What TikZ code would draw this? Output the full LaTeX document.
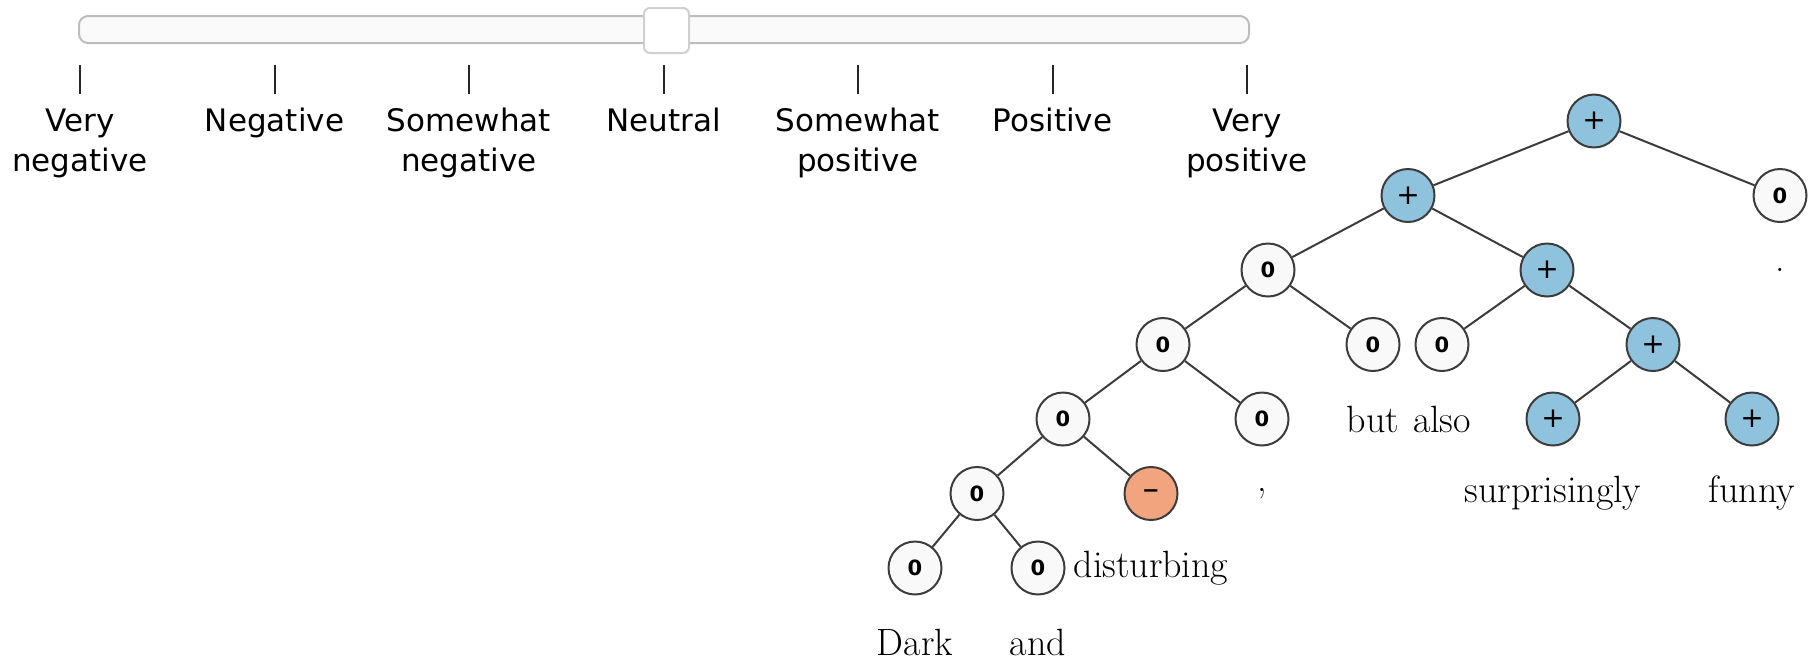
\documentclass[tikz,border=0pt]{standalone}
\usepackage{fontspec}
\usepackage{xcolor}
\usepackage{tikz}
\usetikzlibrary{positioning,shapes,calc}
\newfontfamily\labelfont{DejaVu Sans}
\newfontfamily\nodefont{DejaVu Sans}
\definecolor{posblue}{HTML}{8FC2DD}
\definecolor{negorange}{HTML}{F2A47E}
\definecolor{zerofill}{HTML}{F9F9F9}
\definecolor{edgegray}{HTML}{3C3C3C}
\definecolor{barline}{HTML}{BDBDBD}
\definecolor{knobline}{HTML}{D0D0D0}

\begin{document}
\begin{tikzpicture}[
  x=0.5pt, y=-0.5pt,
  tnode/.style={
    circle,
    draw=edgegray,
    line width=1pt,
    minimum size=26.5pt,
    inner sep=0pt,
    font=\nodefont\bfseries\fontsize{10.5}{12}\selectfont
  },
  zeronode/.style={tnode, fill=zerofill},
  posnode/.style={tnode, fill=posblue, font=\nodefont\fontsize{14}{14}\selectfont},
  negnode/.style={tnode, fill=negorange},
  word/.style={inner sep=0pt, font=\fontsize{19}{22}\selectfont},
  scalelabel/.style={inner sep=0pt, anchor=north, align=center, font=\labelfont\fontsize{15.5}{20}\selectfont},
  treeedge/.style={draw=edgegray, line width=1pt},
  tickline/.style={draw=black!85, line width=1pt}
]
\useasboundingbox (0,0) rectangle (1816,660);

% Slider bar and knob
\draw[barline, fill=white!98!black, line width=1pt, rounded corners=4.5pt] (79,16) rectangle (1249,43);
\draw[knobline, fill=white, line width=1pt, rounded corners=3pt] (644,8) rectangle (689,53);

% Ticks
\draw[tickline] (80,65) -- (80,94);
\draw[tickline] (274.5,65) -- (274.5,94);
\draw[tickline] (469,65) -- (469,94);
\draw[tickline] (663.5,65) -- (663.5,94);
\draw[tickline] (858,65) -- (858,94);
\draw[tickline] (1052.5,65) -- (1052.5,94);
\draw[tickline] (1247,65) -- (1247,94);

% Scale labels
\node[scalelabel] (lVN) at (80,108) {Very\\negative};
\node[scalelabel] (lN) at (274.5,108) {Negative};
\node[scalelabel] (lSN) at (469,108) {Somewhat\\negative};
\node[scalelabel] (lZ) at (663.5,108) {Neutral};
\node[scalelabel] (lSP) at (858,108) {Somewhat\\positive};
\node[scalelabel] (lP) at (1052.5,108) {Positive};
\node[scalelabel] (lVP) at (1247,108) {Very\\positive};

% Tree, layer 0 and 1
\node[posnode] (N01) at (1594,121) {+};
\node[posnode] (N11) at (1408,195.5) {+};
\node[zeronode] (N12) at (1780,195.5) {0};

% Layer 2
\node[zeronode] (N21) at (1268,270) {0};
\node[posnode] (N22) at (1547,270) {+};

% Layer 3
\node[zeronode] (N31) at (1163,344.5) {0};
\node[zeronode] (N32) at (1373,344.5) {0};
\node[zeronode] (N33) at (1442,344.5) {0};
\node[posnode] (N34) at (1653,344.5) {+};

% Layer 4
\node[zeronode] (N41) at (1063,419) {0};
\node[zeronode] (N42) at (1262,419) {0};
\node[posnode] (N43) at (1553,419) {+};
\node[posnode] (N44) at (1752,419) {+};

% Layer 5 and 6
\node[zeronode] (N51) at (977,493.5) {0};
\node[negnode] (N52) at (1151,493.5) {\textbf{−}};
\node[zeronode] (N61) at (915,568) {0};
\node[zeronode] (N62) at (1038,568) {0};

% Words under the leaves
\node[word] (wDark) at (915,642.5) {Dark};
\node[word] (wAnd) at (1038,642.5) {and};
\node[word] (wDisturbing) at (1151,568) {disturbing};
\node[word] (wComma) at (1262,493.5) {,};
\node[word] (wBut) at (1373,419) {but};
\node[word] (wAlso) at (1442,419) {also};
\node[word] (wSurprisingly) at (1553,493.5) {surprisingly};
\node[word] (wFunny) at (1752,493.5) {funny};
\node[word] (wDot) at (1780,270) {.};

% Edges
\draw[treeedge] (N01) -- (N11);
\draw[treeedge] (N01) -- (N12);
\draw[treeedge] (N11) -- (N21);
\draw[treeedge] (N11) -- (N22);
\draw[treeedge] (N21) -- (N31);
\draw[treeedge] (N21) -- (N32);
\draw[treeedge] (N22) -- (N33);
\draw[treeedge] (N22) -- (N34);
\draw[treeedge] (N31) -- (N41);
\draw[treeedge] (N31) -- (N42);
\draw[treeedge] (N34) -- (N43);
\draw[treeedge] (N34) -- (N44);
\draw[treeedge] (N41) -- (N51);
\draw[treeedge] (N41) -- (N52);
\draw[treeedge] (N51) -- (N61);
\draw[treeedge] (N51) -- (N62);

\end{tikzpicture}
\end{document}
